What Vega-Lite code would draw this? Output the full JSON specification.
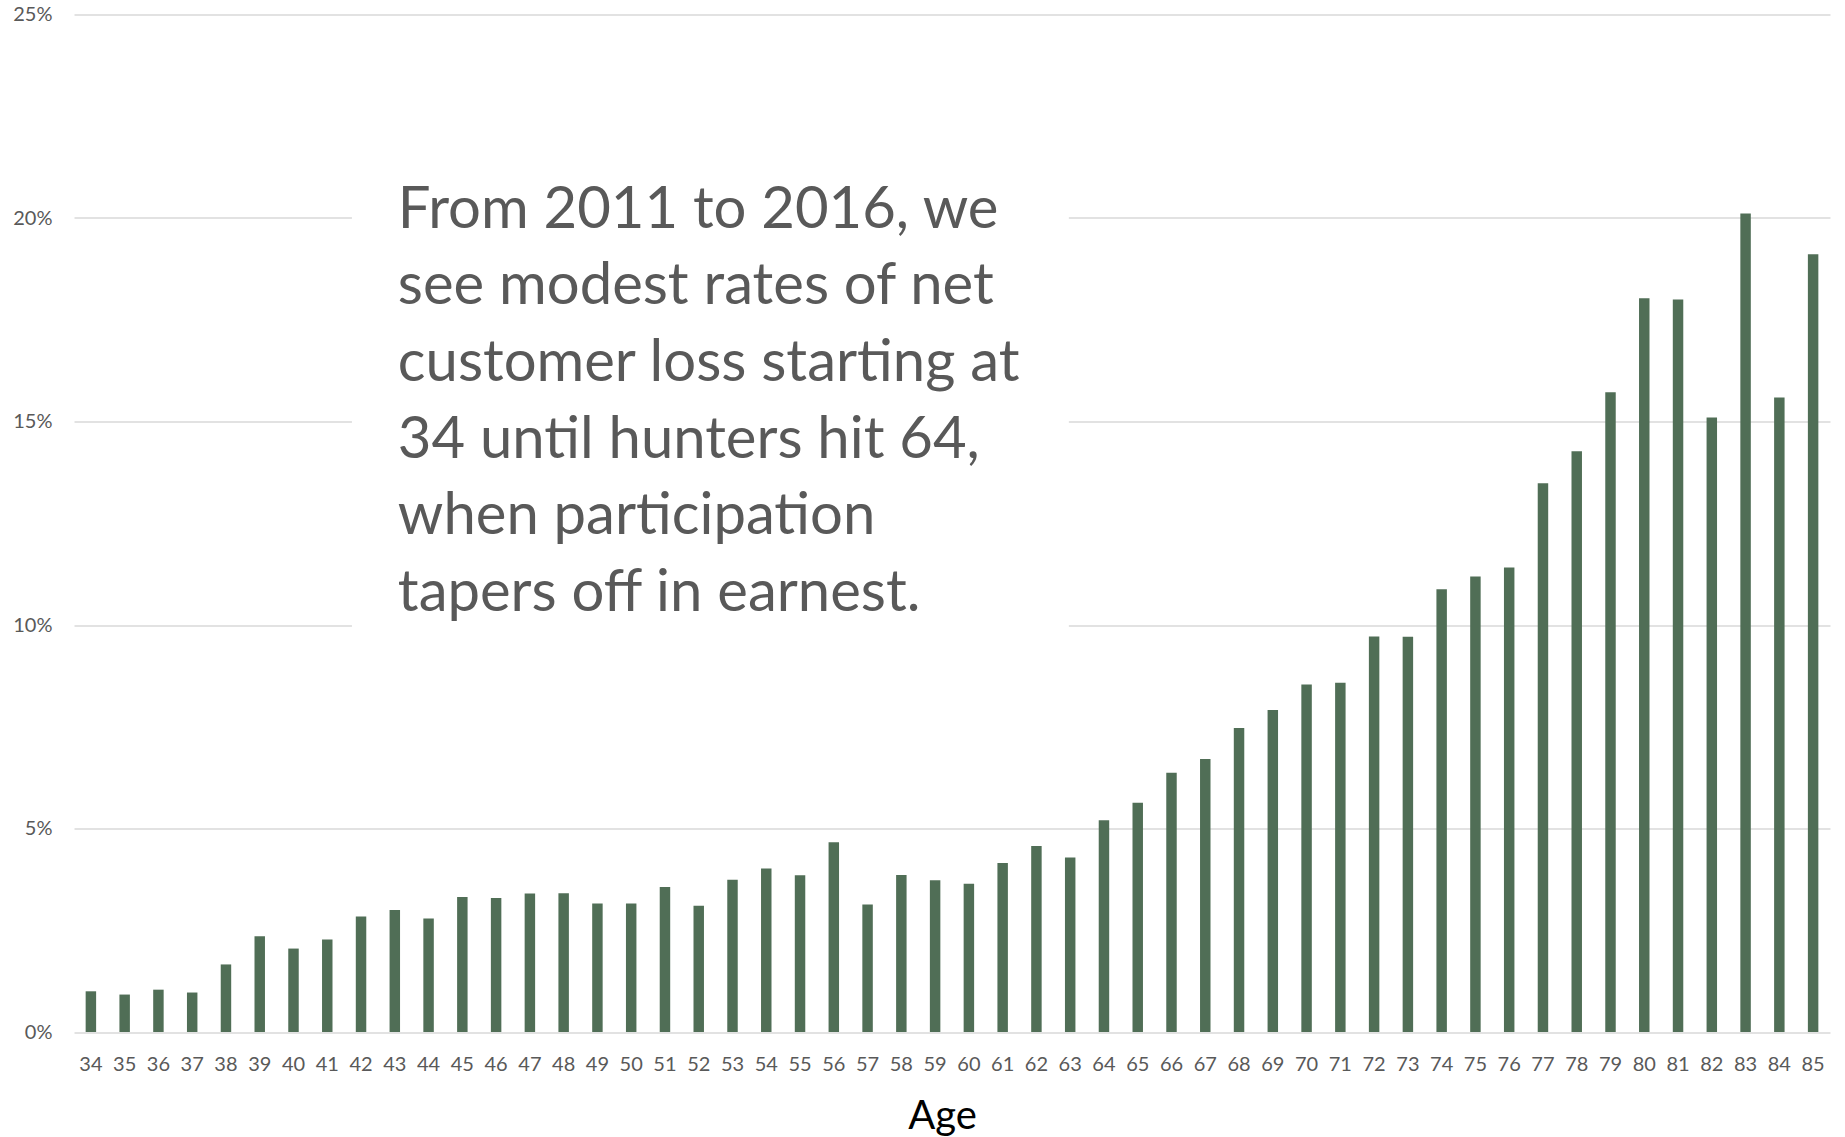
{
  "$schema": "https://vega.github.io/schema/vega-lite/v6.json",
  "width": 1756,
  "height": 1017.5,
  "autosize": {"type": "none"},
  "padding": {"left": 74, "top": 14.5, "right": 15, "bottom": 105},
  "background": "white",
  "config": {
    "view": {"stroke": null},
    "font": "Lato",
    "axis": {"labelFont": "Lato", "titleFont": "Lato"}
  },
  "data": {
    "values": [
      {"age": 34, "rate": 0.0100}, {"age": 35, "rate": 0.0092}, {"age": 36, "rate": 0.0104}, {"age": 37, "rate": 0.0097},
      {"age": 38, "rate": 0.0166}, {"age": 39, "rate": 0.0235}, {"age": 40, "rate": 0.0205}, {"age": 41, "rate": 0.0227},
      {"age": 42, "rate": 0.0284}, {"age": 43, "rate": 0.0300}, {"age": 44, "rate": 0.0279}, {"age": 45, "rate": 0.0332},
      {"age": 46, "rate": 0.0329}, {"age": 47, "rate": 0.0340}, {"age": 48, "rate": 0.0341}, {"age": 49, "rate": 0.0316},
      {"age": 50, "rate": 0.0316}, {"age": 51, "rate": 0.0356}, {"age": 52, "rate": 0.0310}, {"age": 53, "rate": 0.0374},
      {"age": 54, "rate": 0.0402}, {"age": 55, "rate": 0.0385}, {"age": 56, "rate": 0.0466}, {"age": 57, "rate": 0.0313},
      {"age": 58, "rate": 0.0386}, {"age": 59, "rate": 0.0373}, {"age": 60, "rate": 0.0364}, {"age": 61, "rate": 0.0415},
      {"age": 62, "rate": 0.0457}, {"age": 63, "rate": 0.0429}, {"age": 64, "rate": 0.0520}, {"age": 65, "rate": 0.0563},
      {"age": 66, "rate": 0.0637}, {"age": 67, "rate": 0.0671}, {"age": 68, "rate": 0.0747}, {"age": 69, "rate": 0.0791},
      {"age": 70, "rate": 0.0854}, {"age": 71, "rate": 0.0858}, {"age": 72, "rate": 0.0972}, {"age": 73, "rate": 0.0971},
      {"age": 74, "rate": 0.1088}, {"age": 75, "rate": 0.1119}, {"age": 76, "rate": 0.1141}, {"age": 77, "rate": 0.1348},
      {"age": 78, "rate": 0.1427}, {"age": 79, "rate": 0.1572}, {"age": 80, "rate": 0.1803}, {"age": 81, "rate": 0.1800},
      {"age": 82, "rate": 0.1510}, {"age": 83, "rate": 0.2011}, {"age": 84, "rate": 0.1559}, {"age": 85, "rate": 0.1911}
    ]
  },
  "layer": [
    {
      "mark": {"type": "bar", "color": "#506e56"},
      "encoding": {
        "x": {
          "field": "age",
          "type": "ordinal",
          "sort": "ascending",
          "scale": {"paddingInner": 0.69, "paddingOuter": 0.345},
          "axis": {
            "title": "Age",
            "labelAngle": 0,
            "labelFontSize": 20,
            "labelColor": "#595959",
            "labelPadding": 22,
            "ticks": false,
            "tickSize": 0,
            "domain": false,
            "grid": false,
            "titleFontSize": 40,
            "titleFontWeight": "normal",
            "titleColor": "#000000",
            "titlePadding": 22,
            "titleX": 868
          }
        },
        "y": {
          "field": "rate",
          "type": "quantitative",
          "scale": {"domain": [0, 0.25], "nice": false},
          "axis": {
            "title": null,
            "values": [0, 0.05, 0.1, 0.15, 0.2, 0.25],
            "format": ".0%",
            "labelFontSize": 20,
            "labelColor": "#595959",
            "labelPadding": 22,
            "ticks": false,
            "tickSize": 0,
            "domain": false,
            "grid": true,
            "gridColor": "#d9d9d9",
            "gridWidth": 1.5
          }
        }
      }
    },
    {
      "data": {"values": [{}]},
      "mark": {"type": "rect", "color": "white"},
      "encoding": {
        "x": {"datum": 41.73, "type": "quantitative", "scale": {"domain": [33.5, 85.5], "nice": false, "zero": false}, "axis": null},
        "x2": {"datum": 62.96},
        "y": {"datum": 0.215, "type": "quantitative"},
        "y2": {"datum": 0.085}
      }
    },
    {
      "data": {"values": [{}]},
      "mark": {
        "type": "text",
        "text": ["From 2011 to 2016, we", "see modest rates of net", "customer loss starting at", "34 until hunters hit 64,", "when participation", "tapers off in earnest."],
        "align": "left",
        "baseline": "alphabetic",
        "font": "Lato",
        "fontSize": 58,
        "lineHeight": 76.6,
        "color": "#595959"
      },
      "encoding": {
        "x": {"datum": 43.09, "type": "quantitative", "scale": {"domain": [33.5, 85.5], "nice": false, "zero": false}, "axis": null},
        "y": {"datum": 0.1976, "type": "quantitative"}
      }
    }
  ],
  "resolve": {"scale": {"x": "independent"}, "axis": {"x": "independent"}}
}
